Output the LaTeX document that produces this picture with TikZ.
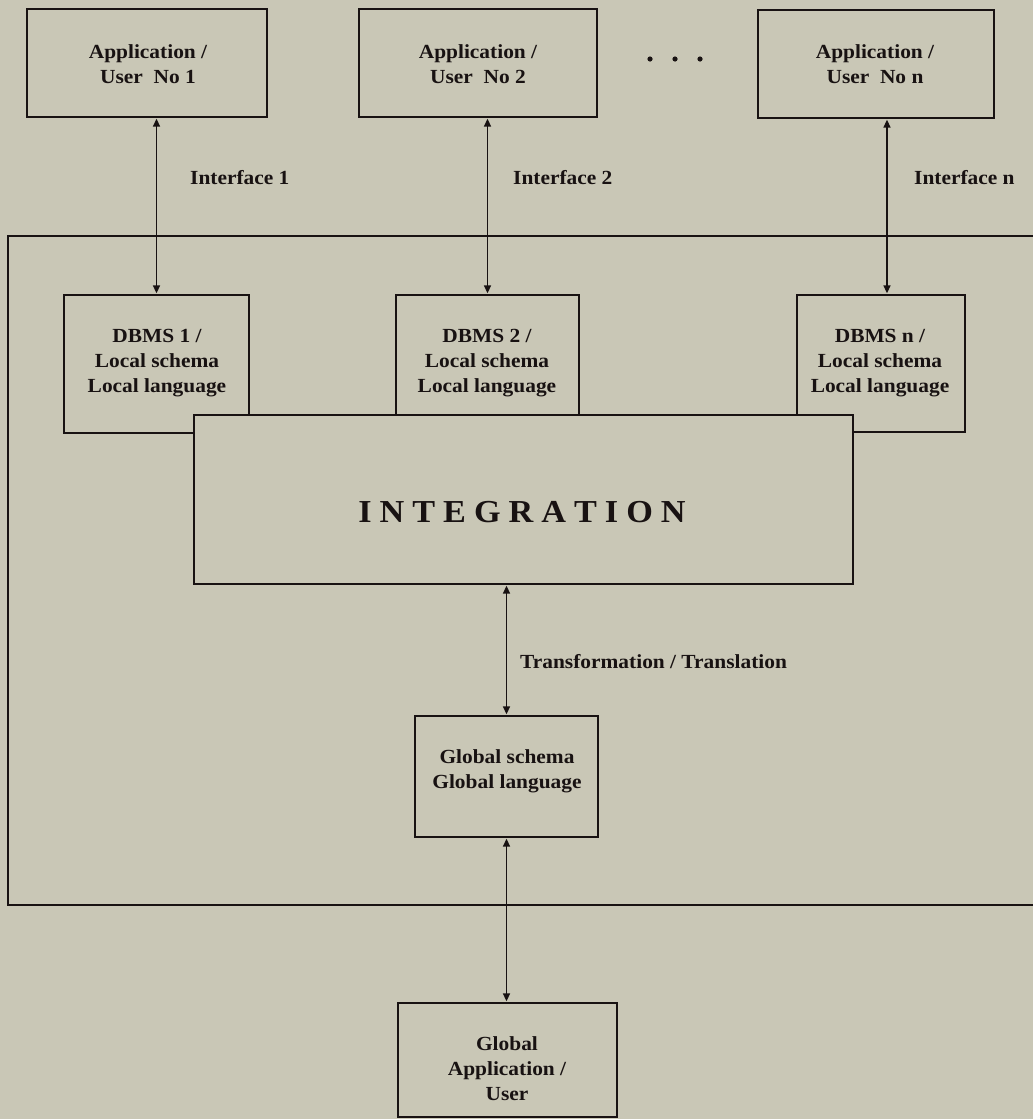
\documentclass[tikz,border=0pt]{standalone}
\usepackage{fontspec}
\newfontfamily\diafont{Liberation Serif Bold}[FakeStretch=1.07]
\usetikzlibrary{arrows.meta}
\definecolor{bgpaper}{RGB}{201,199,182}
\definecolor{ink}{RGB}{24,18,18}
\begin{document}
\begin{tikzpicture}[x=1pt,y=-1pt,
  box/.style={draw=ink, line width=1.7pt, rectangle, inner sep=0pt},
  txt/.style={text=ink, inner sep=0pt, align=center, anchor=north,
              font=\diafont\fontsize{20}{25}\selectfont},
  lbl/.style={text=ink, inner sep=0pt, anchor=base west,
              font=\diafont\fontsize{20}{25}\selectfont},
  arr/.style={draw=ink, line width=1.5pt, {Triangle[length=8pt,width=7pt]}-{Triangle[length=8pt,width=7pt]}, shorten <=0.8pt, shorten >=0.8pt},
  frame/.style={draw=ink, line width=1.7pt}]
\fill[bgpaper] (0,0) rectangle (1033,1119);
\useasboundingbox (0,0) rectangle (1033,1119);

% outer frame (open to the right)
\draw[frame] (1045,236) -- (8,236) -- (8,905) -- (1045,905);

% top application boxes
\node[box, minimum width=240pt, minimum height=108pt] (app1) at (147,63) {};
\node[box, minimum width=238pt, minimum height=108pt] (app2) at (478,63) {};
\node[box, minimum width=236pt, minimum height=108pt] (appn) at (876,64) {};
\node[txt] (app1t) at (148,44) {Application /\\User\ \ No 1};
\node[txt] (app2t) at (478,44) {Application /\\User\ \ No 2};
\node[txt] (appnt) at (875,44) {Application /\\User\ \ No n};

% dots
\fill[ink] (650,59) circle (2.6pt);
\fill[ink] (675,59) circle (2.6pt);
\fill[ink] (700,59) circle (2.6pt);

% DBMS boxes
\node[box, minimum width=185pt, minimum height=138pt] (db1) at (156.5,364) {};
\node[box, minimum width=183pt, minimum height=138pt] (db2) at (487.5,364) {};
\node[box, minimum width=168pt, minimum height=137pt] (dbn) at (881,363.5) {};
\node[txt] (db1t) at (157,329) {DBMS 1 /\\Local schema\\Local language};
\node[txt] (db2t) at (487,329) {DBMS 2 /\\Local schema\\Local language};
\node[txt] (dbnt) at (880,329) {DBMS n /\\Local schema\\Local language};

% integration box
\node[box, fill=bgpaper, minimum width=659pt, minimum height=169pt] (integ) at (523.5,499.5) {};
\node[text=ink, inner sep=0pt, anchor=base, font=\diafont\fontsize{32}{38}\selectfont] (integt) at (522,522)
  {I\kern8pt N\kern8pt T\kern8pt E\kern8pt G\kern8pt R\kern8pt A\kern8pt T\kern8pt I\kern8pt O\kern8pt N};

% global schema and global application
\node[box, minimum width=183pt, minimum height=121pt] (gs) at (506.5,776.5) {};
\node[txt] (gst) at (507,749) {Global schema\\Global language};
\node[box, minimum width=219pt, minimum height=114pt] (ga) at (507.5,1060) {};
\node[txt] (gat) at (507,1036) {Global\\Application /\\User};

% connectors
\coordinate (an) at (887,0);
\draw[arr] (app1.south -| db1.north) -- (db1.north);
\draw[arr] (app2.south -| db2.north) -- (db2.north);
\draw[arr] (appn.south -| an) -- (dbn.north -| an);
\draw[arr] (integ.south -| gs.north) -- (gs.north);
\draw[arr] (gs.south) -- (ga.north -| gs.south);

% labels
\node[lbl] (if1) at (190,184) {Interface 1};
\node[lbl] (if2) at (513,184) {Interface 2};
\node[lbl] (ifn) at (914,184) {Interface n};
\node[lbl] (tt) at (520,668) {Transformation / Translation};
\end{tikzpicture}
\end{document}
